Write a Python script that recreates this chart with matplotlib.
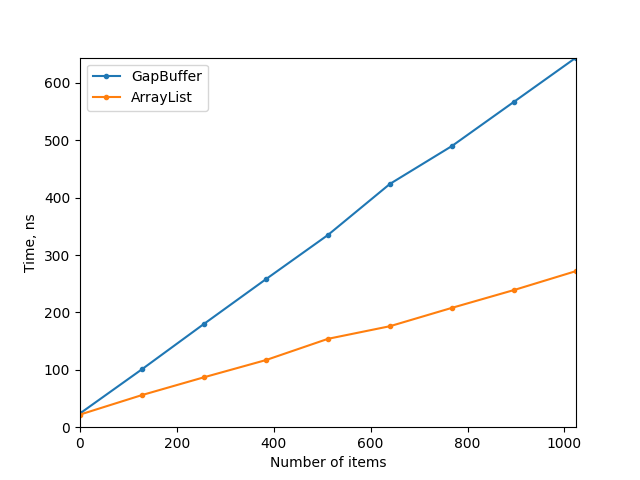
import matplotlib
matplotlib.use("Agg")
import matplotlib.pyplot as plt

items = [0, 128, 256, 384, 512, 640, 768, 896, 1024]
gap_buffer = [24, 101, 180, 258, 335, 424, 490, 567, 644]
array_list = [22, 56, 87, 117, 154, 176, 208, 239, 272]

fig, ax = plt.subplots(figsize=(6.4, 4.8), dpi=100)
ax.plot(items, gap_buffer, marker='.', label='GapBuffer')
ax.plot(items, array_list, marker='.', label='ArrayList')
ax.set_xlim(0, max(items))
ax.set_ylim(0, max(gap_buffer))
ax.set_xlabel('Number of items')
ax.set_ylabel('Time, ns')
ax.legend(loc='upper left')

fig.savefig('out.png')
